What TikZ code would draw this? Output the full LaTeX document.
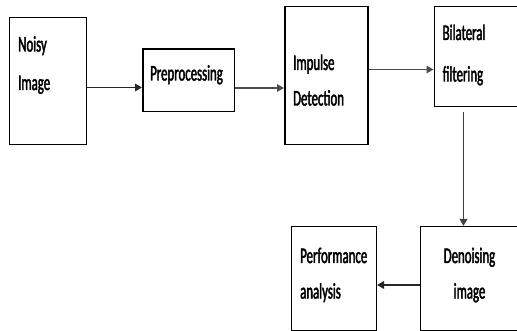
\documentclass[tikz,border=0pt]{standalone}
\usepackage{fontspec}
\newfontfamily\calfont[FakeStretch=0.575,FakeBold=1.8]{Carlito}
\usetikzlibrary{arrows.meta}
\begin{document}
\begin{tikzpicture}[x=1pt,y=-1pt,
  box/.style={draw=black,line width=1.5pt,inner sep=0pt,anchor=north west},
  lbl/.style={font=\calfont\fontsize{22.3}{26}\selectfont,inner sep=0pt,text=black},
  conn/.style={line width=1.6pt,draw=black!85,-{Triangle[length=7pt,width=7.5pt]}}]
\clip (0,0) rectangle (517,331);
\fill[white] (0,0) rectangle (517,331);
% boxes
\node[box,minimum width=77pt,minimum height=127pt] (noisy) at (8.5,17) {};
\node[box,minimum width=91.5pt,minimum height=62.5pt] (prep) at (142,48.5) {};
\node[box,minimum width=83pt,minimum height=138pt] (imp) at (284,6) {};
\node[box,minimum width=90pt,minimum height=100pt] (bil) at (433.5,6) {};
\node[box,minimum width=102pt,minimum height=104pt] (den) at (419.5,226) {};
\node[box,minimum width=85pt,minimum height=104pt] (perf) at (290.5,226) {};
% texts
\node[lbl,anchor=base west] (t1) at (18,51.5) {Noisy};
\node[lbl,anchor=base west] (t2) at (18,90) {Image};
\node[lbl,anchor=base west] (t3) at (150,80.5) {Preprocessing};
\node[lbl,anchor=base west] (t4) at (293,70) {Impulse};
\node[lbl,anchor=base west] (t5) at (293,105.5) {Detection};
\node[lbl,anchor=base west] (t6) at (442.5,40) {Bilateral};
\node[lbl,anchor=base west] (t7) at (442.5,81.5) {filtering};
\node[lbl,anchor=base west] (t8) at (300,263) {Performance};
\node[lbl,anchor=base west] (t9) at (300,298.5) {analysis};
\node[lbl,anchor=base] (t10) at (469.5,263) {Denoising};
\node[lbl,anchor=base] (t11) at (469.5,298.5) {image};
% connectors
\coordinate (nA) at (noisy.east |- 0,87.5);
\coordinate (pA) at (prep.west |- 0,87.5);
\draw[conn] (nA) -- (pA);
\coordinate (pB) at (prep.east |- 0,88);
\coordinate (iB) at (imp.west |- 0,88);
\draw[conn,draw=black!70] (pB) -- (iB);
\coordinate (iC) at (imp.east |- 0,69.5);
\coordinate (bC) at (bil.west |- 0,69.5);
\draw[conn,draw=black!70] (iC) -- (bC);
\coordinate (bD) at (463.5,112);
\coordinate (dD) at (bD |- den.north);
\draw[conn,draw=black!75] (bD) -- (dD);
\coordinate (dE) at (den.west |- 0,285);
\coordinate (pE) at (perf.east |- 0,285);
\draw[conn] (dE) -- (pE);
\end{tikzpicture}
\end{document}
